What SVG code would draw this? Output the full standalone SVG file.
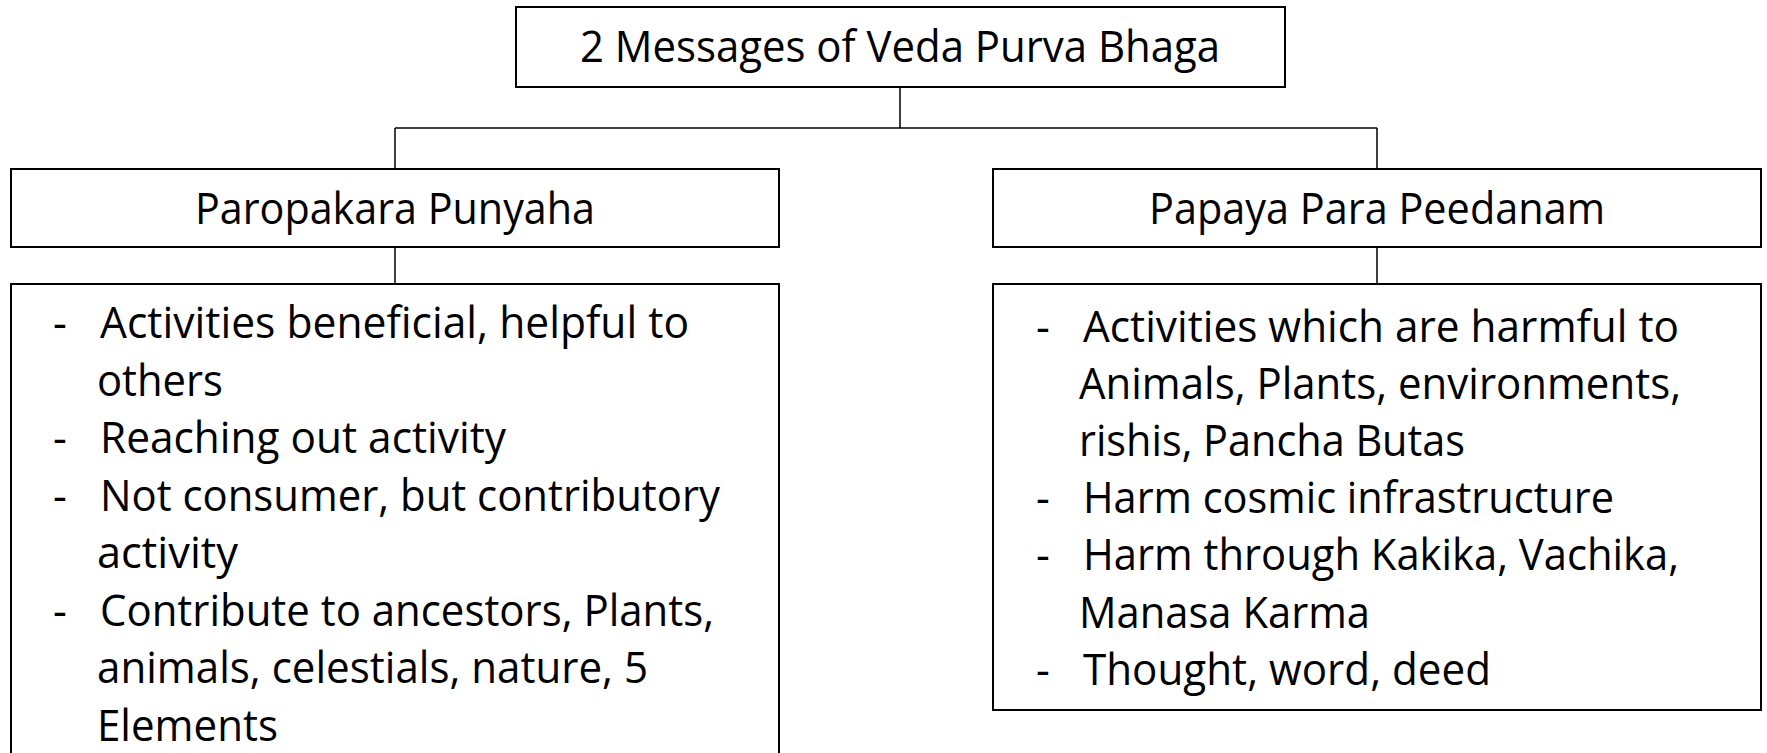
<svg xmlns="http://www.w3.org/2000/svg" width="1767" height="753" viewBox="0 0 1767 753">
<style>
.box{fill:#ffffff;stroke:#000000;stroke-width:2}
.conn{fill:none;stroke:#000000;stroke-width:1.5}
text{font-family:"Open Sans","Liberation Sans",sans-serif;font-size:43px;fill:#000000}
.c{text-anchor:middle}
</style>
<rect width="1767" height="753" fill="#ffffff"/>
<g id="connectors">
<path class="conn" d="M900 87 V128 M395 128 H1377 M395 128 V169 M1377 128 V169 M395 247 V284 M1377 247 V284"/>
</g>
<g id="title">
<rect class="box" x="516" y="7" width="769" height="80"/>
<text class="c" x="900" y="62" textLength="640" lengthAdjust="spacingAndGlyphs">2 Messages of Veda Purva Bhaga</text>
</g>
<g id="paropakara">
<rect class="box" x="11" y="169" width="768" height="78"/>
<text class="c" x="395" y="224" textLength="400" lengthAdjust="spacingAndGlyphs">Paropakara Punyaha</text>
</g>
<g id="papaya">
<rect class="box" x="993" y="169" width="768" height="78"/>
<text class="c" x="1377" y="224" textLength="456" lengthAdjust="spacingAndGlyphs">Papaya Para Peedanam</text>
</g>
<g id="paropakara-details">
<rect class="box" x="11" y="284" width="768" height="480"/>
<text x="53" y="338">-</text>
<text x="100" y="338" textLength="589" lengthAdjust="spacingAndGlyphs">Activities beneficial, helpful to</text>
<text x="97" y="395.5" textLength="126" lengthAdjust="spacingAndGlyphs">others</text>
<text x="53" y="453">-</text>
<text x="100" y="453" textLength="406" lengthAdjust="spacingAndGlyphs">Reaching out activity</text>
<text x="53" y="510.5">-</text>
<text x="100" y="510.5" textLength="620" lengthAdjust="spacingAndGlyphs">Not consumer, but contributory</text>
<text x="97" y="568" textLength="141" lengthAdjust="spacingAndGlyphs">activity</text>
<text x="53" y="625.5">-</text>
<text x="100" y="625.5" textLength="614" lengthAdjust="spacingAndGlyphs">Contribute to ancestors, Plants,</text>
<text x="97" y="683" textLength="551" lengthAdjust="spacingAndGlyphs">animals, celestials, nature, 5</text>
<text x="97" y="740.5" textLength="181" lengthAdjust="spacingAndGlyphs">Elements</text>
</g>
<g id="papaya-details">
<rect class="box" x="993" y="284" width="768" height="426"/>
<text x="1036" y="342">-</text>
<text x="1083" y="342" textLength="596" lengthAdjust="spacingAndGlyphs">Activities which are harmful to</text>
<text x="1079" y="399" textLength="602" lengthAdjust="spacingAndGlyphs">Animals, Plants, environments,</text>
<text x="1079" y="456" textLength="386" lengthAdjust="spacingAndGlyphs">rishis, Pancha Butas</text>
<text x="1036" y="513">-</text>
<text x="1083" y="513" textLength="531" lengthAdjust="spacingAndGlyphs">Harm cosmic infrastructure</text>
<text x="1036" y="570">-</text>
<text x="1083" y="570" textLength="596" lengthAdjust="spacingAndGlyphs">Harm through Kakika, Vachika,</text>
<text x="1079" y="628" textLength="291" lengthAdjust="spacingAndGlyphs">Manasa Karma</text>
<text x="1036" y="685">-</text>
<text x="1083" y="685" textLength="408" lengthAdjust="spacingAndGlyphs">Thought, word, deed</text>
</g>
</svg>
